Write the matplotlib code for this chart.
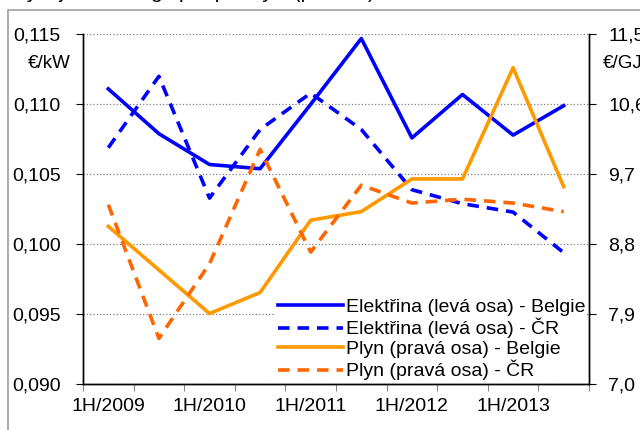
import matplotlib
matplotlib.use("Agg")
import matplotlib.pyplot as plt
from matplotlib.patches import Rectangle
from matplotlib.ticker import FixedLocator, FuncFormatter

plt.rcParams['font.family'] = ['Liberation Sans', 'DejaVu Sans']

# pololeti 1H/2009 .. 2H/2013
obdobi = ['1H/2009', '2H/2009', '1H/2010', '2H/2010', '1H/2011',
          '2H/2011', '1H/2012', '2H/2012', '1H/2013', '2H/2013']

# elektrina, leva osa (EUR/kW)
el_belgie = [0.1111, 0.1079, 0.1057, 0.1054, 0.1100,
             0.1147, 0.1076, 0.1107, 0.1078, 0.1099]
el_cr = [0.1069, 0.1120, 0.1033, 0.1082, 0.1108,
         0.1082, 0.1039, 0.1029, 0.1023, 0.0994]

# plyn, prava osa (EUR/GJ)
plyn_belgie = [9.03, 8.47, 7.91, 8.18, 9.11, 9.22, 9.64, 9.64, 11.07, 9.54]
plyn_cr = [9.31, 7.59, 8.55, 10.02, 8.70, 9.56, 9.33, 9.38, 9.33, 9.22]

levy_ticks = [0.090, 0.095, 0.100, 0.105, 0.110, 0.115]
pravy_ticks = [7.0, 7.9, 8.8, 9.7, 10.6, 11.5]

fig = plt.figure(figsize=(6.4, 4.3), dpi=100)

# sedy ramecek grafu (oriznuty)
fig.patches.append(Rectangle((8 / 640, -0.1), 1.2, 1.1 - 10 / 430,
                             transform=fig.transFigure, fill=False,
                             edgecolor='#a0a0a0', linewidth=1.2, zorder=0))
# nadpis je v predloze oriznuty, viditelne jsou jen dotahy pismen
fig.text(0.02, 1 + 2 / 430, 'Vývoj cen energií pro průmysl (pololetí)',
         fontsize=15, va='baseline', ha='left')

ax = fig.add_axes([83 / 640, 1 - 384.3 / 430, 506 / 640, 350 / 430])
ax2 = ax.twinx()

x = list(range(len(obdobi)))
l1, = ax.plot(x, el_belgie, color='#0000ff', lw=2.6,
              label='Elektřina (levá osa) - Belgie')
l2, = ax.plot(x, el_cr, color='#0000ff', lw=2.6, linestyle=(0, (3.2, 2.2)),
              label='Elektřina (levá osa) - ČR')
l3, = ax2.plot(x, plyn_belgie, color='#ff9900', lw=2.6,
               label='Plyn (pravá osa) - Belgie')
l4, = ax2.plot(x, plyn_cr, color='#ff6600', lw=2.6, linestyle=(0, (3.2, 2.2)),
               label='Plyn (pravá osa) - ČR')

ax.set_xlim(-0.5, 9.5)
ax.set_ylim(0.090, 0.115)
ax2.set_ylim(7.0, 11.5)

carka = lambda fmt: FuncFormatter(lambda v, p: (fmt % v).replace('.', ','))
ax.yaxis.set_major_locator(FixedLocator(levy_ticks))
ax.yaxis.set_major_formatter(carka('%.3f'))
ax2.yaxis.set_major_locator(FixedLocator(pravy_ticks))
ax2.yaxis.set_major_formatter(carka('%.1f'))

# x: znacky mezi kategoriemi, popisky u kazde druhe
ax.xaxis.set_major_locator(FixedLocator([i - 0.5 for i in range(11)]))
ax.xaxis.set_major_formatter(FuncFormatter(lambda v, p: ''))
ax.xaxis.set_minor_locator(FixedLocator(x[::2]))
ax.set_xticklabels(obdobi[::2], minor=True)
ax.tick_params(axis='x', which='major', length=5, color='#888888', direction='out')
ax.tick_params(axis='x', which='minor', length=0, labelsize=14, pad=10)
ax.tick_params(axis='y', length=5, labelsize=14, pad=11, direction='out')
ax2.tick_params(axis='y', length=5, labelsize=14, pad=9, direction='out')

ax.grid(axis='y', color='#808080', linestyle=':', linewidth=0.9)
ax.set_axisbelow(True)
for a in (ax, ax2):
    a.spines['top'].set_visible(False)
    a.spines['left'].set_linewidth(1.0)
    a.spines['right'].set_linewidth(1.0)
    a.spines['bottom'].set_linewidth(1.0)

fig.text(71 / 640, 1 - 63 / 430, '€/kW', fontsize=13.5, ha='right', va='center')
fig.text(603 / 640, 1 - 63 / 430, '€/GJ', fontsize=13.5, ha='left', va='center')

leg = ax2.legend(handles=[l1, l2, l3, l4], loc='lower right',
                 bbox_to_anchor=(1.0, 0.0), fontsize=14, frameon=True,
                 fancybox=False, edgecolor='none', facecolor='white',
                 framealpha=1.0, handlelength=3.35, handletextpad=0.15,
                 labelspacing=0.1, borderpad=0.1, borderaxespad=0.1)

fig.savefig('out.png', dpi=100)
